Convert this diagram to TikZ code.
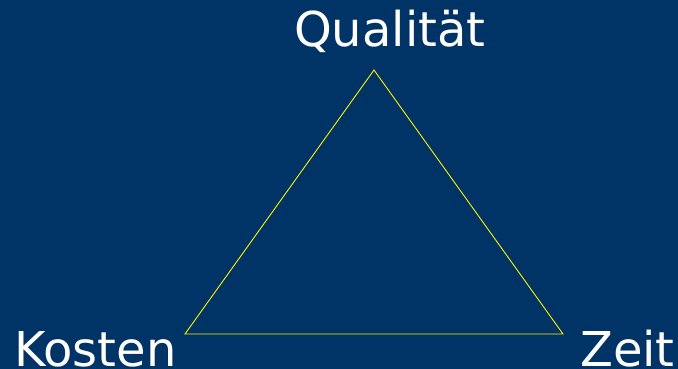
\documentclass[tikz,border=0pt]{standalone}
\usepackage{fontspec}
\setmainfont{DejaVu Sans}
\definecolor{bgblue}{RGB}{0,51,102}
\begin{document}
\begin{tikzpicture}[x=1pt, y=-1pt, font=\fontsize{48}{57}\selectfont,
    lbl/.style={text=white, inner sep=0pt}]
    \fill[bgblue] (0,0) rectangle (678,369);
    \useasboundingbox (0,0) rectangle (678,369);
    \coordinate (top) at (374,70);
    \coordinate (left) at (185,334);
    \coordinate (right) at (563,334);
    \draw[yellow, line width=0.9pt] (top) -- (right) -- (left) -- cycle;
    \node[lbl, anchor=base west] (qualitaet) at (294,47) {Qualität};
    \node[lbl, anchor=base west] (kosten) at (14,366) {Kosten};
    \node[lbl, anchor=base west] (zeit) at (580,366) {Zeit};
  \end{tikzpicture}
\end{document}
